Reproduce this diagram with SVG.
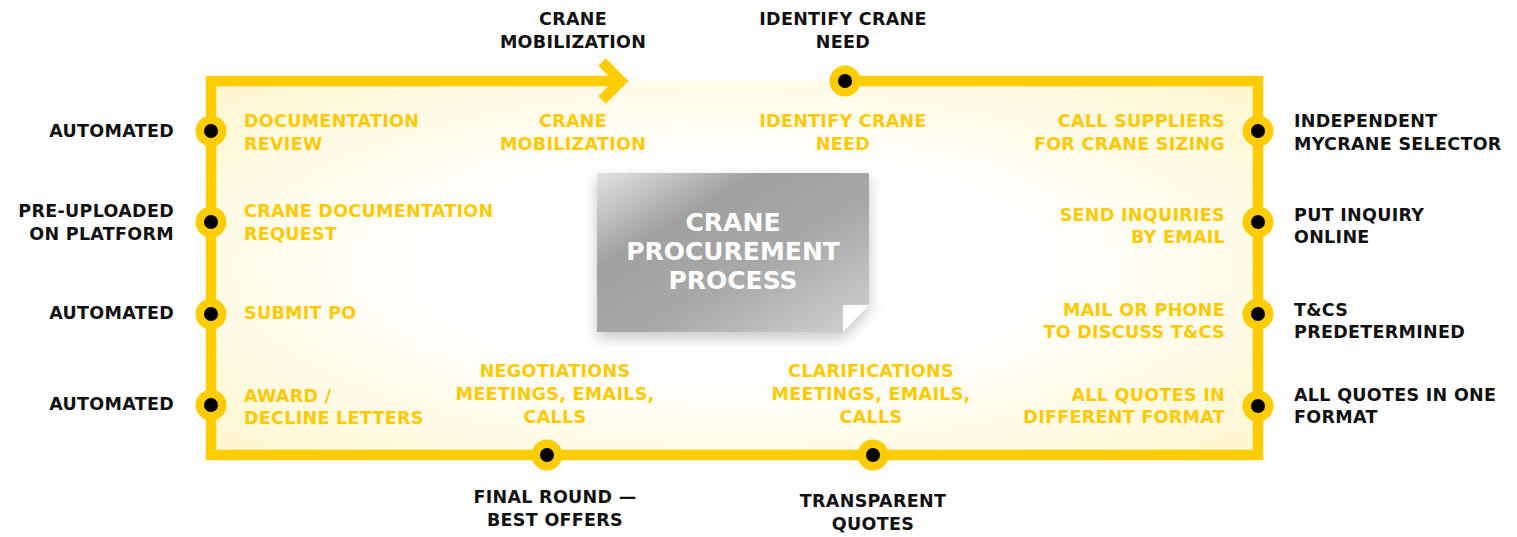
<svg xmlns="http://www.w3.org/2000/svg" xmlns:xlink="http://www.w3.org/1999/xlink" width="1517" height="537" viewBox="0 0 1517 537">
<style>
  text { font-family: "DejaVu Sans", "Liberation Sans", sans-serif; font-weight: bold; font-size: 17.5px; letter-spacing: 0.3px; }
  .y { fill: #FFC900; }
  .k { fill: #111111; }
  .m { text-anchor: middle; }
  .e { text-anchor: end; }
  .title { fill: #ffffff; font-size: 25px; letter-spacing: 0; text-anchor: middle; }
  .frame { fill: none; stroke: #FFCC00; stroke-width: 10.5; }
</style>
<defs>
  <radialGradient id="bg" cx="0.5" cy="0.5" r="0.72">
    <stop offset="0" stop-color="#ffffff"/>
    <stop offset="0.4" stop-color="#ffffff"/>
    <stop offset="1" stop-color="#fff6cc"/>
  </radialGradient>
  <linearGradient id="box" x1="0" y1="0" x2="1" y2="1">
    <stop offset="0" stop-color="#e2e2e2"/>
    <stop offset="0.3" stop-color="#a0a0a0"/>
    <stop offset="0.6" stop-color="#a9a9a9"/>
    <stop offset="1" stop-color="#d2d2d2"/>
  </linearGradient>
  <filter id="sh" x="-20%" y="-20%" width="140%" height="150%">
    <feDropShadow dx="0" dy="6" stdDeviation="7" flood-color="#000" flood-opacity="0.22"/>
  </filter>
  <g id="dot">
    <circle r="15.5" fill="#FFCC00"/>
    <circle r="7" fill="#000000"/>
  </g>
</defs>
<rect width="1517" height="537" fill="#ffffff"/>
<rect x="211" y="81" width="1047" height="374" fill="url(#bg)"/>

<g id="connectors">
  <path class="frame" d="M845,81 H1258 V455 H211 V81 H617"/>
  <polyline class="frame" points="602,62 621,81 602,100" stroke-linejoin="miter"/>
</g>

<g id="center-box">
  <polygon points="597,173 869,173 869,305 843,332 597,332" fill="url(#box)" filter="url(#sh)"/>
  <polygon points="843,305 869,305 843,332" fill="#ffffff"/>
  <text class="title" x="733" y="231">CRANE</text>
  <text class="title" x="733" y="260">PROCUREMENT</text>
  <text class="title" x="733" y="289">PROCESS</text>
</g>

<g id="node-crane-mobilization">
  <text class="k m" x="573" y="25">CRANE</text>
  <text class="k m" x="573" y="48">MOBILIZATION</text>
  <text class="y m" x="573" y="127">CRANE</text>
  <text class="y m" x="573" y="150">MOBILIZATION</text>
</g>

<g id="node-identify-need">
  <use xlink:href="#dot" x="845" y="81"/>
  <text class="k m" x="843" y="25">IDENTIFY CRANE</text>
  <text class="k m" x="843" y="48">NEED</text>
  <text class="y m" x="843" y="127">IDENTIFY CRANE</text>
  <text class="y m" x="843" y="150">NEED</text>
</g>

<g id="node-call-suppliers">
  <use xlink:href="#dot" x="1258" y="131"/>
  <text class="y e" x="1225" y="127">CALL SUPPLIERS</text>
  <text class="y e" x="1225" y="150">FOR CRANE SIZING</text>
  <text class="k" x="1294" y="127">INDEPENDENT</text>
  <text class="k" x="1294" y="150">MYCRANE SELECTOR</text>
</g>

<g id="node-send-inquiries">
  <use xlink:href="#dot" x="1258" y="222"/>
  <text class="y e" x="1225" y="221">SEND INQUIRIES</text>
  <text class="y e" x="1225" y="243">BY EMAIL</text>
  <text class="k" x="1294" y="221">PUT INQUIRY</text>
  <text class="k" x="1294" y="243">ONLINE</text>
</g>

<g id="node-tcs">
  <use xlink:href="#dot" x="1258" y="314"/>
  <text class="y e" x="1225" y="316">MAIL OR PHONE</text>
  <text class="y e" x="1225" y="338">TO DISCUSS T&amp;CS</text>
  <text class="k" x="1294" y="316">T&amp;CS</text>
  <text class="k" x="1294" y="338">PREDETERMINED</text>
</g>

<g id="node-quotes">
  <use xlink:href="#dot" x="1258" y="406"/>
  <text class="y e" x="1225" y="401">ALL QUOTES IN</text>
  <text class="y e" x="1225" y="423">DIFFERENT FORMAT</text>
  <text class="k" x="1294" y="401">ALL QUOTES IN ONE</text>
  <text class="k" x="1294" y="423">FORMAT</text>
</g>

<g id="node-clarifications">
  <use xlink:href="#dot" x="873" y="455"/>
  <text class="y m" x="871" y="377">CLARIFICATIONS</text>
  <text class="y m" x="871" y="400">MEETINGS, EMAILS,</text>
  <text class="y m" x="871" y="423">CALLS</text>
  <text class="k m" x="873" y="507">TRANSPARENT</text>
  <text class="k m" x="873" y="530">QUOTES</text>
</g>

<g id="node-negotiations">
  <use xlink:href="#dot" x="547" y="455"/>
  <text class="y m" x="555" y="377">NEGOTIATIONS</text>
  <text class="y m" x="555" y="400">MEETINGS, EMAILS,</text>
  <text class="y m" x="555" y="423">CALLS</text>
  <text class="k m" x="555" y="503">FINAL ROUND —</text>
  <text class="k m" x="555" y="526">BEST OFFERS</text>
</g>

<g id="node-award">
  <use xlink:href="#dot" x="211" y="405"/>
  <text class="y" x="244" y="402">AWARD /</text>
  <text class="y" x="244" y="424">DECLINE LETTERS</text>
  <text class="k e" x="174" y="410">AUTOMATED</text>
</g>

<g id="node-submit-po">
  <use xlink:href="#dot" x="211" y="314"/>
  <text class="y" x="244" y="319">SUBMIT PO</text>
  <text class="k e" x="174" y="319">AUTOMATED</text>
</g>

<g id="node-doc-request">
  <use xlink:href="#dot" x="211" y="222"/>
  <text class="y" x="244" y="217">CRANE DOCUMENTATION</text>
  <text class="y" x="244" y="240">REQUEST</text>
  <text class="k e" x="174" y="217">PRE-UPLOADED</text>
  <text class="k e" x="174" y="240">ON PLATFORM</text>
</g>

<g id="node-doc-review">
  <use xlink:href="#dot" x="211" y="131"/>
  <text class="y" x="244" y="127">DOCUMENTATION</text>
  <text class="y" x="244" y="150">REVIEW</text>
  <text class="k e" x="174" y="137">AUTOMATED</text>
</g>
</svg>
